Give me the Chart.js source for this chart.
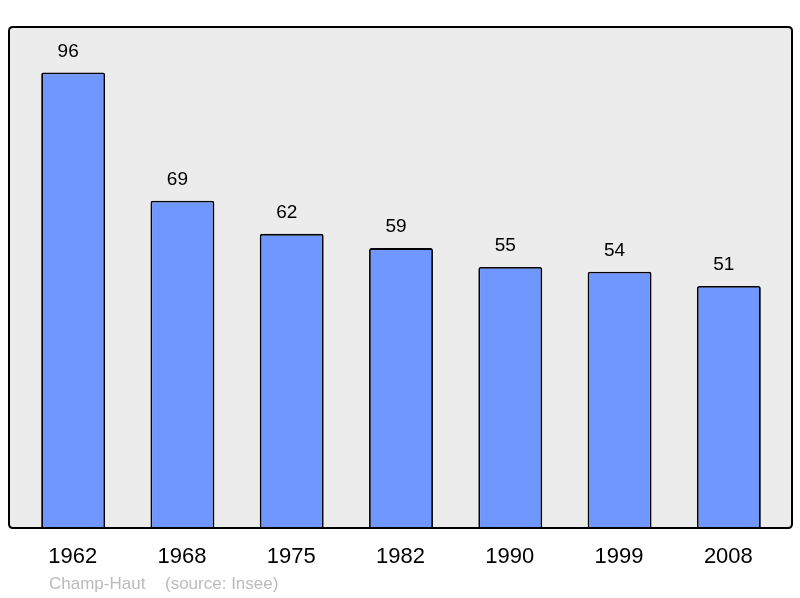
<!DOCTYPE html>
<html>
<head>
<meta charset="utf-8">
<script src="https://cdn.jsdelivr.net/npm/chart.js@4/dist/chart.umd.min.js"></script>
<style>
  body { margin: 0; background: #fff; }
  #wrap { width: 800px; height: 598px; }
</style>
</head>
<body>
<div id="wrap"><canvas id="grafico" width="800" height="598"></canvas></div>
<script>
const annees = ['1962', '1968', '1975', '1982', '1990', '1999', '2008'];
const habitants = [96, 69, 62, 59, 55, 54, 51];
const commune = 'Champ-Haut';
const source = '(source: Insee)';

function roundRect(ctx, x, y, w, h, r) {
    ctx.beginPath();
    ctx.moveTo(x + r, y);
    ctx.lineTo(x + w - r, y);
    ctx.quadraticCurveTo(x + w, y, x + w, y + r);
    ctx.lineTo(x + w, y + h - r);
    ctx.quadraticCurveTo(x + w, y + h, x + w - r, y + h);
    ctx.lineTo(x + r, y + h);
    ctx.quadraticCurveTo(x, y + h, x, y + h - r);
    ctx.lineTo(x, y + r);
    ctx.quadraticCurveTo(x, y, x + r, y);
    ctx.closePath();
}

const cadre = {
    id: 'cadre',
    beforeDatasetsDraw(chart) {
        const ctx = chart.ctx;
        const a = chart.chartArea;
        ctx.save();
        roundRect(ctx, 9, a.top, 783, a.bottom - a.top, 4);
        ctx.fillStyle = '#ececec';
        ctx.fill();
        ctx.restore();
    },
    afterDatasetsDraw(chart) {
        const ctx = chart.ctx;
        const a = chart.chartArea;
        ctx.save();
        roundRect(ctx, 9, a.top, 783, a.bottom - a.top, 4);
        ctx.lineWidth = 2;
        ctx.strokeStyle = '#000';
        ctx.stroke();

        // valeurs au-dessus des barres (un peu décalées à gauche comme l'original)
        const meta = chart.getDatasetMeta(0);
        ctx.fillStyle = '#000';
        ctx.textAlign = 'center';
        ctx.textBaseline = 'middle';
        ctx.font = "19px 'Liberation Sans', Arial, sans-serif";
        meta.data.forEach((bar, i) => {
            ctx.fillText(String(habitants[i]), bar.x - 5, bar.y - 21);
        });

        const xs = chart.scales.x;
        ctx.font = "22px 'Liberation Sans', Arial, sans-serif";
        annees.forEach((an, i) => {
            ctx.fillText(an, xs.getPixelForValue(i) - 0.5, 557);
        });

        ctx.textAlign = 'left';
        ctx.fillStyle = '#bbbbbb';
        ctx.font = "17px 'Liberation Sans', Arial, sans-serif";
        ctx.fillText(commune, 49, 584);
        ctx.fillText(source, 165, 584);
        ctx.restore();
    }
};

new Chart(document.getElementById('grafico'), {
    type: 'bar',
    data: {
        labels: annees,
        datasets: [{
            data: habitants,
            backgroundColor: '#7096ff',
            borderColor: '#000000',
            borderWidth: 1.8,
            borderRadius: 2,
            borderSkipped: 'bottom',
            categoryPercentage: 1,
            barPercentage: 0.585
        }]
    },
    options: {
        responsive: false,
        animation: false,
        layout: { padding: { left: 18.5, right: 16.5, top: 27, bottom: 70 } },
        scales: {
            x: { display: false },
            y: { display: false, min: 0, max: 105.6 }
        },
        plugins: {
            legend: { display: false },
            tooltip: { enabled: false }
        }
    },
    plugins: [cadre]
});
</script>
</body>
</html>
